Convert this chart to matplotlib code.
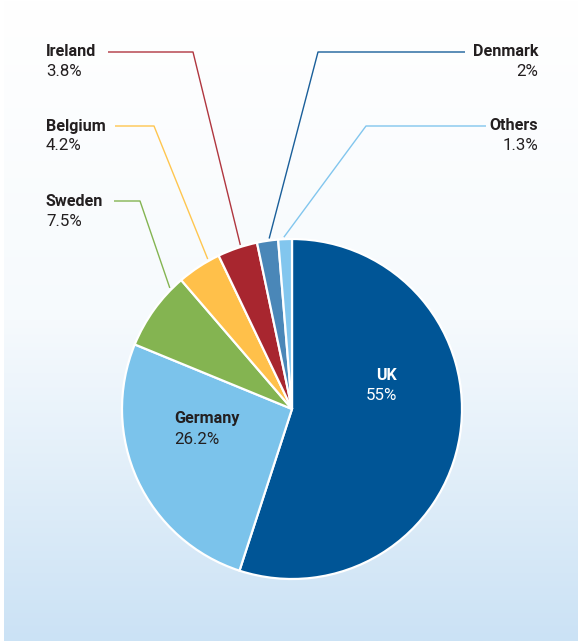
import numpy as np
import matplotlib
matplotlib.use("Agg")
import matplotlib.pyplot as plt
from matplotlib.colors import LinearSegmentedColormap

# data
countries = ["UK", "Germany", "Sweden", "Belgium", "Ireland", "Denmark", "Others"]
shares = [55, 26.2, 7.5, 4.2, 3.8, 2, 1.3]
share_labels = ["55%", "26.2%", "7.5%", "4.2%", "3.8%", "2%", "1.3%"]
colors = ["#005596", "#7bc3eb", "#84b451", "#ffc04a", "#a8262f", "#4a87b8", "#82c6ee"]
line_colors = {"Sweden": "#84b451", "Belgium": "#ffc64f", "Ireland": "#b0363f",
               "Denmark": "#1a5f9a", "Others": "#82c6ee"}

W, H = 582, 643
def iy(y):
    # image (top-down) pixel row -> axes y
    return H - y

fig = plt.figure(figsize=(W / 100, H / 100), dpi=100)
ax = fig.add_axes([0, 0, 1, 1])

# background panel with vertical gradient
cmap = LinearSegmentedColormap.from_list("bg", ["#ffffff", "#f6fafd", "#cbe2f5"])
grad = np.linspace(0, 1, 256).reshape(-1, 1)
ax.imshow(grad, cmap=cmap, extent=[4, 578, iy(641), iy(0)], aspect="auto",
          origin="upper", zorder=0)

cx, cy, r = 292, iy(409), 170
wedges, _ = ax.pie(shares, colors=colors, startangle=90, counterclock=False,
                   center=(cx, cy), radius=r, frame=True,
                   wedgeprops=dict(edgecolor="white", linewidth=1.6))
ax.set_xlim(0, W)
ax.set_ylim(0, H)
ax.set_aspect("equal")
ax.axis("off")

font = "Roboto"
tc = "#231f20"
fs_name = 11.6
fs_val = 12.2

# inside labels
ax.text(397, iy(376), "UK", ha="right", va="center", color="white",
        fontsize=fs_name, fontweight="bold", family=font)
ax.text(397, iy(396), share_labels[0], ha="right", va="center", color="white",
        fontsize=fs_val, family=font)
ax.text(174, iy(418), "Germany", ha="left", va="center", color=tc,
        fontsize=fs_name, fontweight="bold", family=font)
ax.text(174, iy(439), share_labels[1], ha="left", va="center", color=tc,
        fontsize=fs_val, family=font)

# outside labels: text pos, line start x, elbow, anchor fraction from theta1
outside = {
    "Ireland": dict(tx=46, ty=51, ha="left", lx=108, elbow=(193, 52), frac=0.41),
    "Belgium": dict(tx=46, ty=126, ha="left", lx=115, elbow=(154, 126), frac=0.25),
    "Sweden": dict(tx=46, ty=202, ha="left", lx=114, elbow=(140, 201), frac=0.17),
    "Denmark": dict(tx=538, ty=51, ha="right", lx=465, elbow=(318, 52), frac=0.41),
    "Others": dict(tx=538, ty=126, ha="right", lx=486, elbow=(366, 126), frac=0.58),
}

for i, name in enumerate(countries):
    if name not in outside:
        continue
    o = outside[name]
    w = wedges[i]
    ang = np.deg2rad(w.theta1 + (w.theta2 - w.theta1) * o["frac"])
    px = cx + (r + 2) * np.cos(ang)
    py = cy + (r + 2) * np.sin(ang)
    ex, ey = o["elbow"]
    ax.plot([o["lx"], ex, px], [iy(ey), iy(ey), py], color=line_colors[name],
            linewidth=1.0, solid_capstyle="butt", zorder=3)
    ax.text(o["tx"], iy(o["ty"]), name, ha=o["ha"], va="center", color=tc,
            fontsize=fs_name, fontweight="bold", family=font)
    ax.text(o["tx"], iy(o["ty"] + 20), share_labels[i], ha=o["ha"], va="center",
            color=tc, fontsize=fs_val, family=font)

fig.savefig("out.png", dpi=100)
